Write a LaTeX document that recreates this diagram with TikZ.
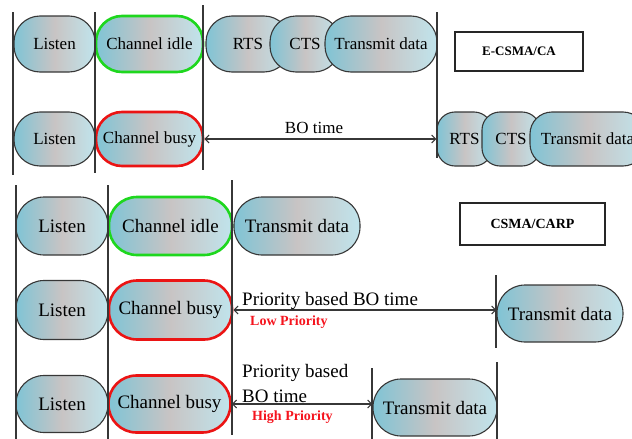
\documentclass[tikz,border=0pt]{standalone}
\usepackage{fontspec}
\setmainfont{Liberation Serif}
\usetikzlibrary{arrows.meta}
\definecolor{capL}{RGB}{128,196,213}
\definecolor{capM}{RGB}{200,196,196}
\definecolor{capR}{RGB}{192,228,236}
\definecolor{edgegray}{RGB}{55,55,55}
\definecolor{idlegreen}{RGB}{30,215,30}
\definecolor{busyred}{RGB}{235,20,20}
\definecolor{prored}{RGB}{245,20,30}
\pgfdeclarehorizontalshading{capshade}{100bp}{color(0bp)=(capL); color(25bp)=(capL); color(50bp)=(capM); color(75bp)=(capR); color(100bp)=(capR)}
\tikzset{
  capsule/.style={rectangle, draw=edgegray, line width=1.1pt, shading=capshade, rounded corners=26pt, inner sep=0pt, font=\fontsize{17}{19}\selectfont},
  capsuleb/.style={capsule, rounded corners=28pt, font=\fontsize{19}{21}\selectfont},
  idle/.style={draw=idlegreen, line width=2.6pt},
  busy/.style={draw=busyred, line width=2.6pt},
  vline/.style={draw=edgegray, line width=1.2pt},
  tline/.style={draw=edgegray, line width=1.1pt, {Straight Barb[length=4pt,width=8pt]}-{Straight Barb[length=4pt,width=8pt]}},
  proto/.style={rectangle, draw=black!85, line width=1.5pt, inner sep=0pt, fill=white},
  txt/.style={anchor=west, inner sep=0pt},
  prio/.style={anchor=west, inner sep=0pt, text=prored, font=\fontsize{14}{16}\selectfont\bfseries}
}
\begin{document}
\begin{tikzpicture}[x=1pt,y=-1pt]
\useasboundingbox (0,0) rectangle (632,439);
% ---------- E-CSMA/CA ----------
\node[capsule, minimum width=81pt, minimum height=56pt] (l1) at (54.5,44) {Listen};
\node[capsule, idle, minimum width=107pt, minimum height=56pt] (i1) at (149.5,44) {Channel idle};
\node[capsule, minimum width=84pt, minimum height=56pt] (rts1) at (248,44) {RTS};
\node[capsule, minimum width=70pt, minimum height=56pt] (cts1) at (305,44) {CTS};
\node[capsule, minimum width=112pt, minimum height=56pt] (td1) at (381,44) {Transmit data};

\node[capsule, minimum width=81pt, minimum height=54pt] (l2) at (54.5,139) {Listen};
\node[capsule, busy, minimum width=107pt, minimum height=54pt] (b2) at (149.5,139) {Channel busy};
\node[capsule, rounded corners=18pt, minimum width=55pt, minimum height=54pt] (rts2) at (464.5,139) {RTS};
\node[capsule, rounded corners=18pt, minimum width=58pt, minimum height=54pt] (cts2) at (511,139) {CTS};
\node[capsule, rounded corners=22pt, minimum width=115pt, minimum height=54pt] (td2) at (587.5,139) {Transmit data};

\node[proto, minimum width=128pt, minimum height=39pt, font=\fontsize{13}{15}\selectfont\bfseries] (boxA) at (519,51.5) {E-CSMA/CA};

\draw[tline] (b2.east) -- (rts2.west);
\node[font=\fontsize{17}{19}\selectfont, inner sep=0pt] (bo1) at (314,128) {BO time};

\draw[vline] (13,12) -- (13,175);
\draw[vline] (95,12) -- (95,173);
\draw[vline] (203,5) -- (203,170);
\draw[vline] (437,12) -- (437,158);

% ---------- CSMA/CARP ----------
\node[capsuleb, minimum width=92pt, minimum height=58pt] (l3) at (62,226) {Listen};
\node[capsuleb, idle, minimum width=123pt, minimum height=58pt] (i3) at (170.5,226) {Channel idle};
\node[capsuleb, minimum width=126pt, minimum height=58pt] (td3) at (297,226) {Transmit data};

\node[proto, minimum width=145pt, minimum height=42pt, font=\fontsize{14}{16}\selectfont\bfseries] (boxB) at (532.5,224) {CSMA/CARP};

\node[capsuleb, minimum width=92pt, minimum height=59pt] (l4) at (62,310) {Listen};
\node[capsuleb, busy, minimum width=123pt, minimum height=59pt] (b4) at (170.5,310) {Channel busy};
\node[capsuleb, minimum width=126pt, minimum height=57pt] (td4) at (560,313.5) {Transmit data};
\draw[tline] (b4.east) -- (b4.east -| td4.west);
\node[txt, font=\fontsize{19}{21}\selectfont] (pb4) at (242,301) {Priority based BO time};
\node[prio] (lp) at (250,322) {Low Priority};

\node[capsuleb, minimum width=92pt, minimum height=57pt] (l5) at (62,404) {Listen};
\node[capsuleb, busy, minimum width=122pt, minimum height=57pt] (b5) at (169.5,404) {Channel busy};
\node[capsuleb, minimum width=124pt, minimum height=57pt] (td5) at (435,407.5) {Transmit data};
\draw[tline] (b5.east) -- (b5.east -| td5.west);
\node[txt, font=\fontsize{19}{21}\selectfont] (pb5a) at (242,373) {Priority based};
\node[txt, font=\fontsize{19}{21}\selectfont] (pb5b) at (242,396) {BO time};
\node[prio] (hp) at (252,417) {High Priority};

\draw[vline] (16,185) -- (16,439);
\draw[vline] (108,185) -- (108,439);
\draw[vline] (232,180) -- (232,435);
\draw[vline] (496,275) -- (496,348);
\draw[vline] (372,368) -- (372,439);
\draw[vline] (497,362) -- (497,439);
\end{tikzpicture}
\end{document}
